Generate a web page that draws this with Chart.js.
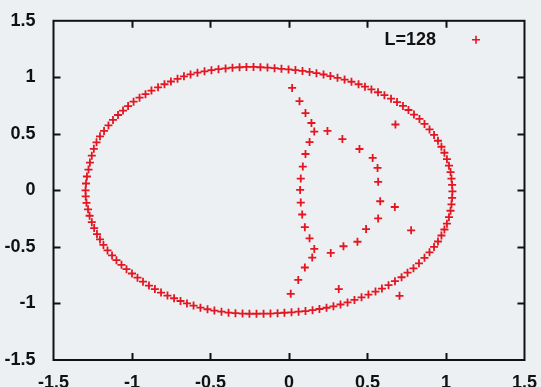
<!DOCTYPE html>
<html>
<head>
<meta charset="utf-8">
<script src="https://cdn.jsdelivr.net/npm/chart.js@4/dist/chart.umd.min.js"></script>
<style>
html,body{margin:0;padding:0;background:#edf0f3;}
#wrap{width:541px;height:387px;position:relative;}
</style>
</head>
<body>
<div id="wrap"><canvas id="c" width="541" height="387"></canvas></div>
<script>
// Outer (ellipse-like) eigenvalue curve
const outerX = [-1.296,-1.293,-1.287,-1.277,-1.268,-1.256,-1.243,-1.226,-1.204,-1.178,-1.150,-1.121,-1.089,-1.057,-1.025,-0.990,-0.952,-0.914,-0.876,-0.834,-0.793,-0.752,-0.710,-0.669,-0.627,-0.583,-0.538,-0.494,-0.449,-0.404,-0.360,-0.315,-0.271,-0.226,-0.182,-0.137,-0.092,-0.048,-0.003,0.041,0.086,0.131,0.175,0.220,0.264,0.309,0.354,0.398,0.443,0.484,0.525,0.567,0.608,0.650,0.688,0.726,0.761,0.796,0.831,0.863,0.895,0.924,0.949,0.971,0.990,1.006,1.019,1.029,1.035,1.039,1.041,1.039,1.035,1.029,1.019,1.006,0.990,0.971,0.949,0.924,0.895,0.863,0.828,0.793,0.755,0.717,0.675,0.634,0.592,0.551,0.506,0.462,0.417,0.373,0.328,0.283,0.239,0.194,0.150,0.105,0.061,0.016,-0.029,-0.073,-0.118,-0.162,-0.207,-0.252,-0.296,-0.341,-0.385,-0.430,-0.475,-0.519,-0.564,-0.608,-0.650,-0.691,-0.732,-0.774,-0.815,-0.854,-0.892,-0.930,-0.965,-1.000,-1.035,-1.067,-1.099,-1.127,-1.156,-1.182,-1.204,-1.223,-1.241,-1.256,-1.270,-1.280,-1.290,-1.295];
const outerY = [0.000,0.061,0.123,0.184,0.246,0.307,0.368,0.425,0.478,0.526,0.575,0.623,0.667,0.706,0.746,0.785,0.820,0.851,0.883,0.912,0.939,0.963,0.987,1.009,1.026,1.041,1.053,1.063,1.072,1.079,1.085,1.089,1.092,1.092,1.089,1.086,1.081,1.075,1.070,1.064,1.057,1.048,1.037,1.025,1.011,0.996,0.980,0.961,0.939,0.917,0.893,0.868,0.842,0.811,0.781,0.747,0.711,0.671,0.632,0.588,0.539,0.491,0.439,0.386,0.333,0.276,0.219,0.162,0.105,0.048,-0.009,-0.066,-0.123,-0.180,-0.237,-0.294,-0.346,-0.399,-0.452,-0.500,-0.548,-0.596,-0.645,-0.689,-0.728,-0.768,-0.803,-0.838,-0.868,-0.895,-0.921,-0.946,-0.969,-0.991,-1.009,-1.025,-1.038,-1.049,-1.059,-1.067,-1.073,-1.078,-1.082,-1.086,-1.089,-1.090,-1.091,-1.091,-1.089,-1.086,-1.081,-1.073,-1.063,-1.051,-1.037,-1.019,-1.000,-0.978,-0.954,-0.930,-0.904,-0.873,-0.842,-0.807,-0.772,-0.735,-0.697,-0.658,-0.617,-0.575,-0.531,-0.482,-0.434,-0.386,-0.333,-0.281,-0.224,-0.167,-0.110,-0.053];
// Inner left arc
const arcAX = [0.020,0.067,0.105,0.143,0.161,0.131,0.105,0.088,0.075,0.071,0.075,0.084,0.101,0.131,0.161,0.148,0.101,0.059,0.011];
const arcAY = [0.906,0.789,0.684,0.596,0.520,0.427,0.322,0.211,0.105,0.004,-0.108,-0.213,-0.325,-0.424,-0.518,-0.594,-0.682,-0.792,-0.915];
// Inner right arc
const arcBX = [0.245,0.340,0.449,0.533,0.564,0.568,0.581,0.568,0.491,0.436,0.347,0.266];
const arcBY = [0.526,0.454,0.366,0.287,0.199,0.076,-0.096,-0.248,-0.342,-0.454,-0.494,-0.553];
// Isolated points
const isoX = [0.678,0.674,0.778,0.704,0.317];
const isoY = [0.583,-0.147,-0.353,-0.932,-0.873];

const xTicks = [-1.5,-1,-0.5,0,0.5,1,1.5];
const yTicks = [-1.5,-1,-0.5,0,0.5,1,1.5];
const legendLabel = 'L=128';

const RED = 'rgb(228,22,34)';
const pts = (xs, ys) => xs.map((x, i) => ({x: x, y: ys[i]}));
const allPoints = [].concat(pts(outerX, outerY), pts(arcAX, arcAY), pts(arcBX, arcBY), pts(isoX, isoY));

const FONT = {family: '"Liberation Sans", Arial, sans-serif', size: 18, weight: 'bold'};
const fmt = v => String(v);

const framePlugin = {
  id: 'frame',
  beforeDraw(chart) {
    const ctx = chart.ctx;
    ctx.save();
    ctx.fillStyle = '#edf0f3';
    ctx.fillRect(0, 0, chart.width, chart.height);
    ctx.restore();
  },
  afterDraw(chart) {
    const ctx = chart.ctx;
    const a = chart.chartArea;
    const xs = chart.scales.x, ys = chart.scales.y;
    ctx.save();
    ctx.strokeStyle = '#111';
    ctx.lineWidth = 2;
    ctx.strokeRect(a.left, a.top, a.right - a.left, a.bottom - a.top);
    const tl = 7;
    ctx.beginPath();
    xTicks.forEach(v => {
      if (v <= xs.min || v >= xs.max) return;
      const p = Math.round(xs.getPixelForValue(v)) + 0.5;
      ctx.moveTo(p, a.bottom); ctx.lineTo(p, a.bottom - tl);
      ctx.moveTo(p, a.top); ctx.lineTo(p, a.top + tl);
    });
    yTicks.forEach(v => {
      if (v <= ys.min || v >= ys.max) return;
      const p = Math.round(ys.getPixelForValue(v)) + 0.5;
      ctx.moveTo(a.left, p); ctx.lineTo(a.left + tl, p);
      ctx.moveTo(a.right, p); ctx.lineTo(a.right - tl, p);
    });
    ctx.stroke();
    // legend (gnuplot style: text then sample)
    const ly = a.top + 19;
    ctx.fillStyle = '#111';
    ctx.font = 'bold 18px "Liberation Sans", Arial, sans-serif';
    ctx.textAlign = 'right';
    ctx.textBaseline = 'middle';
    ctx.fillText(legendLabel, 436, ly);
    ctx.strokeStyle = RED;
    ctx.lineWidth = 1.6;
    const mx = 476, r = 4;
    ctx.beginPath();
    ctx.moveTo(mx - r, ly); ctx.lineTo(mx + r, ly);
    ctx.moveTo(mx, ly - r); ctx.lineTo(mx, ly + r);
    ctx.stroke();
    ctx.restore();
  }
};

new Chart(document.getElementById('c'), {
  type: 'scatter',
  data: {
    datasets: [{
      label: legendLabel,
      data: allPoints,
      pointStyle: 'cross',
      pointRadius: 4,
      pointBorderWidth: 1.8,
      borderColor: RED,
      backgroundColor: RED
    }]
  },
  options: {
    responsive: false,
    animation: false,
    events: [],
    layout: {padding: {left: 0, right: 16, top: 18, bottom: 0}},
    plugins: {legend: {display: false}, tooltip: {enabled: false}},
    scales: {
      x: {
        type: 'linear', min: -1.5, max: 1.5,
        afterBuildTicks: s => { s.ticks = xTicks.map(v => ({value: v})); },
        afterFit: s => { s.height = 27; },
        grid: {display: false},
        border: {display: false},
        ticks: {color: '#111', font: FONT, padding: 4, maxRotation: 0, autoSkip: false, callback: fmt}
      },
      y: {
        type: 'linear', min: -1.5, max: 1.5,
        afterBuildTicks: s => { s.ticks = yTicks.map(v => ({value: v})); },
        afterFit: s => { s.width = 53.5; },
        grid: {display: false},
        border: {display: false},
        ticks: {color: '#111', font: FONT, padding: 10, autoSkip: false, callback: fmt}
      }
    }
  },
  plugins: [framePlugin]
});
</script>
</body>
</html>
